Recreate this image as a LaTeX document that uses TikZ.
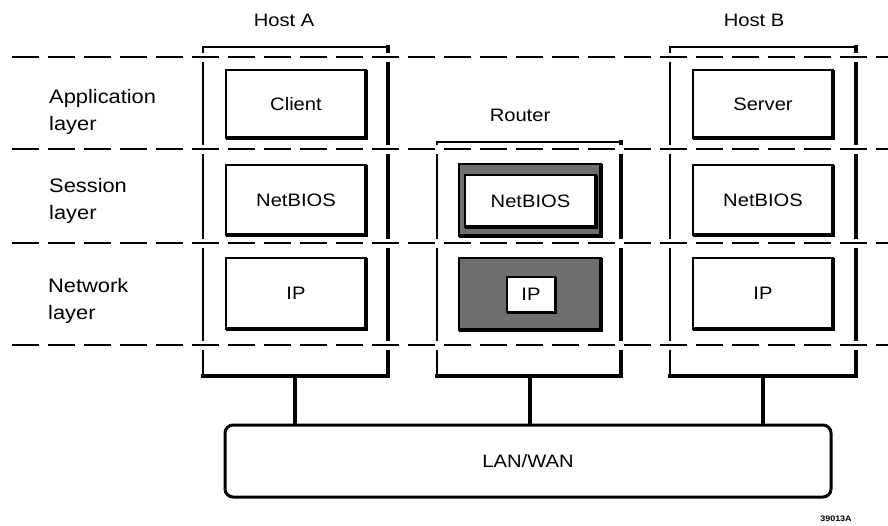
\documentclass[tikz,border=0pt]{standalone}
\usepackage{fontspec}
\setmainfont{Liberation Sans}[FakeStretch=1.12]
\definecolor{rgray}{RGB}{110,110,110}
\begin{document}
\begin{tikzpicture}[x=1pt,y=-1pt,
  wall/.style={line width=1.5pt},
  thickwall/.style={line width=4pt},
  frame/.style={inner sep=0pt,outer sep=0pt},
  layerbox/.style={draw,line width=1.5pt,inner sep=0pt,outer sep=0pt,font=\fontsize{18}{20}\selectfont},
  graybox/.style={layerbox,fill=rgray},
  lbl/.style={font=\fontsize{18}{20}\selectfont,inner sep=0pt},
  layerlbl/.style={font=\fontsize{19.5}{27}\selectfont,align=left,anchor=west,inner sep=0pt},
  sep/.style={line width=2pt,dash pattern=on 27pt off 9pt},
  gap/.style={line width=9pt,white},
  link/.style={line width=4pt}
]
\useasboundingbox (0,0) rectangle (888,525);
\newcommand\shedge[2]{\draw[line width=#2] (#1.north east) -- (#1.south east) -- (#1.south west);}
\newcommand\hostwalls[1]{%
  \draw[wall] (#1.south west) -- (#1.north west) -- (#1.north east);
  \draw[thickwall,line cap=rect] ([xshift=-1pt]#1.north east) -- ([xshift=-1pt,yshift=-1pt]#1.south east) -- ([yshift=-1pt]#1.south west);}

% host frames
\node[frame,minimum width=186pt,minimum height=328pt] (hA) at (296,211) {};
\node[frame,minimum width=185pt,minimum height=233pt] (rt) at (529.5,258.5) {};
\node[frame,minimum width=187pt,minimum height=328pt] (hB) at (763.5,211) {};
\hostwalls{hA}
\hostwalls{rt}
\hostwalls{hB}

% titles
\node[lbl] (tA) at (284,20) {Host A};
\node[lbl] (tR) at (520,115) {Router};
\node[lbl] (tB) at (754,20) {Host B};

% gaps and dashed separators
\coordinate (d1l) at (12,57);  \coordinate (d1r) at (888,57);
\coordinate (d2l) at (12,149); \coordinate (d2r) at (888,149);
\coordinate (d3l) at (12,243); \coordinate (d3r) at (888,243);
\coordinate (d4l) at (12,345); \coordinate (d4r) at (888,345);
\foreach \d in {1,2,3,4}{\draw[gap] (d\d l) -- (d\d r);}
\foreach \d in {1,2,3,4}{\draw[sep] (d\d l) -- (d\d r);}

% layer labels
\node[layerlbl] (la) at (49,112) {Application\\layer};
\node[layerlbl] (ls) at (49,201) {Session\\layer};
\node[layerlbl] (ln) at (48,301) {Network\\layer};

% Host A
\node[layerbox,minimum width=140pt,minimum height=68pt] (cl) at (296,104) {Client};
\node[layerbox,minimum width=140pt,minimum height=70pt] (nbA) at (296,200) {NetBIOS};
\node[layerbox,minimum width=140pt,minimum height=71pt] (ipA) at (296,293.5) {IP};
\shedge{cl}{4pt}\shedge{nbA}{4pt}\shedge{ipA}{4pt}

% Host B
\node[layerbox,minimum width=140pt,minimum height=68pt] (sv) at (763,104) {Server};
\node[layerbox,minimum width=140pt,minimum height=70pt] (nbB) at (763,200) {NetBIOS};
\node[layerbox,minimum width=140pt,minimum height=71pt] (ipB) at (763,293.5) {IP};
\shedge{sv}{4pt}\shedge{nbB}{4pt}\shedge{ipB}{4pt}

% Router
\node[graybox,minimum width=142pt,minimum height=72pt] (nbRo) at (530,200) {};
\shedge{nbRo}{4pt}
\node[layerbox,fill=white,minimum width=131pt,minimum height=52pt] (nbR) at (530.5,201) {NetBIOS};
\shedge{nbR}{4pt}
\node[graybox,minimum width=142pt,minimum height=72pt] (ipRo) at (530,294) {};
\shedge{ipRo}{4pt}
\node[layerbox,fill=white,minimum width=48pt,minimum height=35pt] (ipR) at (531,294.5) {IP};
\shedge{ipR}{3pt}

% LAN/WAN
\node[draw,line width=3pt,rounded corners=8pt,minimum width=606pt,minimum height=72pt,inner sep=0pt,font=\fontsize{18}{20}\selectfont] (lan) at (528,461) {LAN/WAN};
\draw[link] ([xshift=-1pt]hA.south) -- ([xshift=-1pt]hA.south |- lan.north);
\draw[link] (rt.south) -- (rt.south |- lan.north);
\draw[link] ([xshift=-1pt]hB.south) -- ([xshift=-1pt]hB.south |- lan.north);

\node[font=\bfseries\fontsize{8}{9}\selectfont,inner sep=0pt] (fid) at (836,519) {39013A};
\end{tikzpicture}
\end{document}
